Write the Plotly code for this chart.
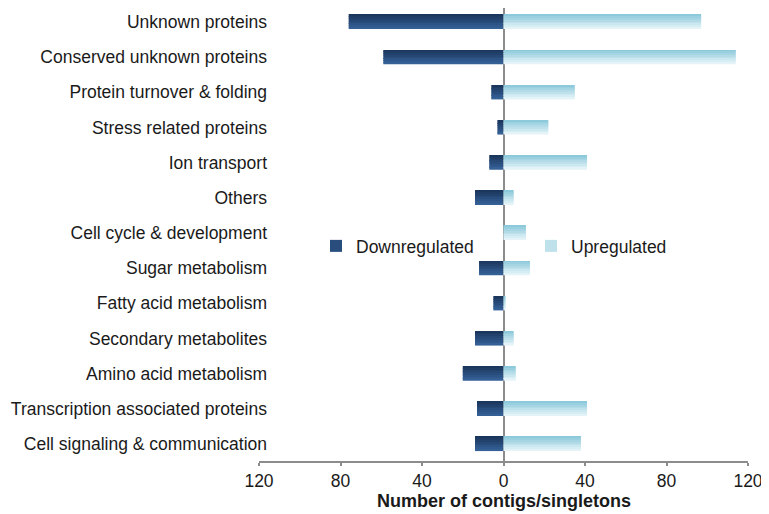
import plotly.graph_objects as go

categories = [
    "Unknown proteins",
    "Conserved unknown proteins",
    "Protein turnover & folding",
    "Stress related proteins",
    "Ion transport",
    "Others",
    "Cell cycle & development",
    "Sugar metabolism",
    "Fatty acid metabolism",
    "Secondary metabolites",
    "Amino acid metabolism",
    "Transcription associated proteins",
    "Cell signaling & communication",
]
downregulated = [76, 59, 6, 3, 7, 14, 0, 12, 5, 14, 20, 13, 14]
upregulated = [97, 114, 35, 22, 41, 5, 11, 13, 1, 5, 6, 41, 38]

tick_vals = [-120, -80, -40, 0, 40, 80, 120]
tick_text = ["120", "80", "40", "0", "40", "80", "120"]
x_title = "Number of contigs/singletons"


def lerp(c1, c2, t):
    return "rgb({},{},{})".format(*[round(a + (b - a) * t) for a, b in zip(c1, c2)])


dark_top, dark_bot = (27, 54, 93), (52, 96, 150)
light_top, light_bot = (140, 201, 219), (228, 243, 248)

W = 0.4
N = 8
fig = go.Figure()
for name, vals, sign, ctop, cbot in [
    ("Downregulated", downregulated, -1, dark_top, dark_bot),
    ("Upregulated", upregulated, 1, light_top, light_bot),
]:
    for k in range(N):
        t = k / (N - 1)
        fig.add_trace(go.Bar(
            x=[sign * v for v in vals],
            y=categories,
            orientation="h",
            width=W / N * 1.02,
            offset=-W / 2 + k * W / N,
            marker=dict(color=lerp(ctop, cbot, t), line=dict(width=0)),
            name=name,
            legendgroup=name,
            showlegend=(k == N // 2),
            hoverinfo="skip",
        ))

# page has an 8px body margin; figure coordinates are page - 8
FW, FH = 761, 506
L, R, T, B = 251, 21, 0, 53
PW, PH = FW - L - R, FH - T - B

fig.update_layout(
    width=FW, height=FH,
    margin=dict(l=L, r=R, t=T, b=B, pad=0),
    plot_bgcolor="white", paper_bgcolor="white",
    barmode="overlay",
    font=dict(family="Liberation Sans, Arial, sans-serif", size=17.5, color="#1a1a1a"),
    showlegend=True,
    legend=dict(
        orientation="h", x=(308 - L) / PW, y=(PH - 238) / PH,
        xanchor="left", yanchor="middle", entrywidth=170, entrywidthmode="pixels",
        bgcolor="rgba(0,0,0,0)", font=dict(size=17.5), itemwidth=30,
    ),
    xaxis=dict(
        range=[-120, 120], tickvals=tick_vals, ticktext=tick_text,
        showgrid=False, zeroline=True, zerolinecolor="#8c8c8c", zerolinewidth=2,
        showline=True, linecolor="#8c8c8c", linewidth=2,
        ticks="outside", ticklen=3, tickwidth=2, tickcolor="#8c8c8c",
        tickfont=dict(size=17.5),
    ),
    yaxis=dict(
        type="category", range=[12.483, -0.398], showgrid=False, zeroline=False,
        showline=False, ticks="", anchor="free", position=(259 - L) / PW,
        tickfont=dict(size=17.5),
    ),
    annotations=[dict(
        text="<b>" + x_title + "</b>", xref="paper", yref="paper",
        x=0.5, y=(PH - 493) / PH, xanchor="center", yanchor="middle",
        showarrow=False, font=dict(size=18),
    )],
)

fig.write_html("out.html")
